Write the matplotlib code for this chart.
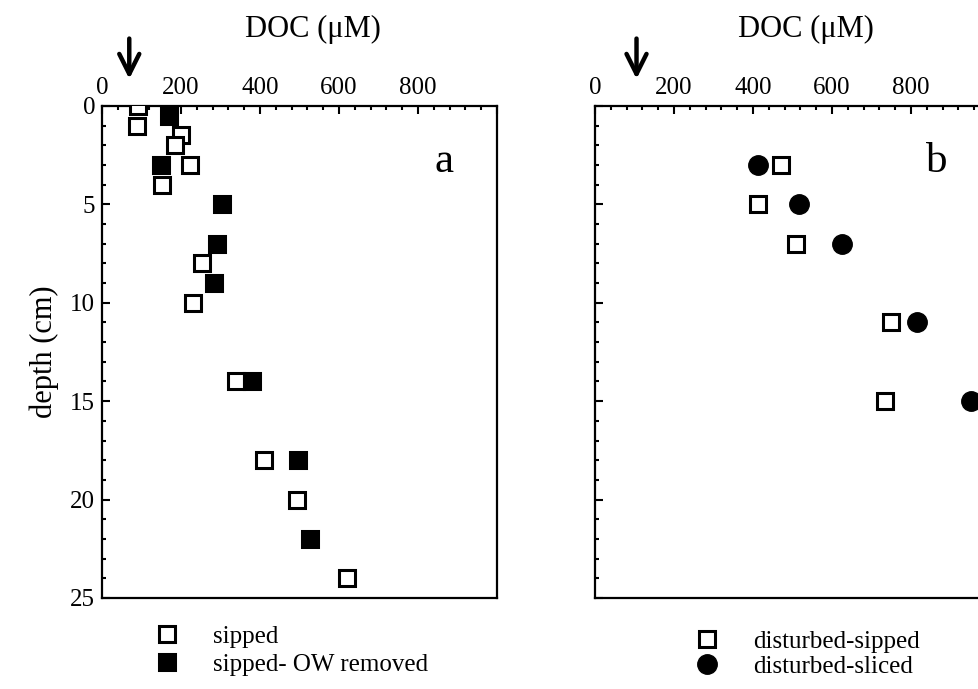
import numpy as np
import matplotlib
matplotlib.use("Agg")
import matplotlib.pyplot as plt
from matplotlib.ticker import MultipleLocator
from matplotlib.lines import Line2D

plt.rcParams['font.family'] = ['Liberation Serif', 'DejaVu Serif']

# panel a
sipped_doc = [92, 88, 200, 185, 224, 153, 252, 231, 338, 410, 493, 620]
sipped_depth = [0, 1, 1.5, 2, 3, 4, 8, 10, 14, 18, 20, 24]
ow_doc = [170, 149, 305, 290, 284, 379, 495, 527]
ow_depth = [0.5, 3, 5, 7, 9, 14, 18, 22]

# panel b
dist_sipped_doc = [470, 412, 509, 749, 734]
dist_sipped_depth = [3, 5, 7, 11, 15]
dist_sliced_doc = [413, 516, 625, 816, 952]
dist_sliced_depth = [3, 5, 7, 11, 15]

# overlying water DOC (arrows)
ow_arrow = [69, 105]

xticks = [0, 200, 400, 600, 800, 1000]
xticklabels = ['0', '200', '400', '600', '800', '']
yticks = [0, 5, 10, 15, 20, 25]

fig = plt.figure(figsize=(9.79, 6.89), dpi=100)
ax0 = fig.add_axes([0.1042, 0.1321, 0.4035, 0.7141])
ax1 = fig.add_axes([0.6078, 0.1321, 0.4035, 0.7141])

sq = dict(ls='none', marker='s', ms=12, mec='k', mew=2.2)

ax0.plot(sipped_doc, sipped_depth, mfc='white', zorder=3, **sq)
ax0.plot(ow_doc, ow_depth, mfc='k', zorder=4, **sq)
ax1.plot(dist_sipped_doc, dist_sipped_depth, mfc='white', zorder=3, **sq)
ax1.plot(dist_sliced_doc, dist_sliced_depth, ls='none', marker='o', ms=14,
         mfc='k', mec='k', zorder=4)

for ax, arr, lab in [(ax0, ow_arrow[0], 'a'), (ax1, ow_arrow[1], 'b')]:
    ax.set_xlim(0, 1000)
    ax.set_ylim(25, 0)
    ax.xaxis.tick_top()
    ax.set_xticks(xticks)
    ax.set_xticklabels(xticklabels)
    ax.xaxis.set_minor_locator(MultipleLocator(40))
    ax.set_yticks(yticks)
    ax.yaxis.set_minor_locator(MultipleLocator(1))
    ax.tick_params(which='both', direction='in', top=True, bottom=False,
                   right=False, width=1.5, labelsize=18, pad=5)
    ax.tick_params(which='major', length=6)
    ax.tick_params(which='minor', length=3)
    for s in ax.spines.values():
        s.set_linewidth(1.6)
    ax.text(0.535, 1.156, 'DOC (\u03bcM)', transform=ax.transAxes,
            ha='center', va='center', fontsize=22)
    ax.text(0.865, 0.887, lab, transform=ax.transAxes,
            ha='center', va='center', fontsize=31)
    ax.annotate('', xy=(arr, 1.055), xytext=(arr, 1.137),
                xycoords=ax.get_xaxis_transform(),
                arrowprops=dict(arrowstyle='->', lw=3.2, color='k',
                                mutation_scale=36, shrinkA=0, shrinkB=0),
                annotation_clip=False)

ax1.set_yticklabels([])
ax0.set_ylabel('depth (cm)', fontsize=22, labelpad=8)

h_open = Line2D([], [], mfc='white', **sq)
h_fill = Line2D([], [], mfc='k', **sq)
h_circ = Line2D([], [], ls='none', marker='o', ms=14, mfc='k', mec='k')

ax0.legend([h_open, h_fill], ['sipped', 'sipped- OW removed'],
           loc='upper left', bbox_to_anchor=(0.159, 0.092),
           bbox_transform=fig.transFigure, frameon=False, fontsize=18,
           handlelength=0.9, handletextpad=1.4, labelspacing=0.2,
           borderaxespad=0, borderpad=0)
ax1.legend([h_open, h_circ], ['disturbed-sipped', 'disturbed-sliced'],
           loc='upper left', bbox_to_anchor=(0.711, 0.085),
           bbox_transform=fig.transFigure, frameon=False, fontsize=18,
           handlelength=0.9, handletextpad=1.4, labelspacing=0.1,
           borderaxespad=0, borderpad=0)

plt.savefig('out.png', dpi=100)
